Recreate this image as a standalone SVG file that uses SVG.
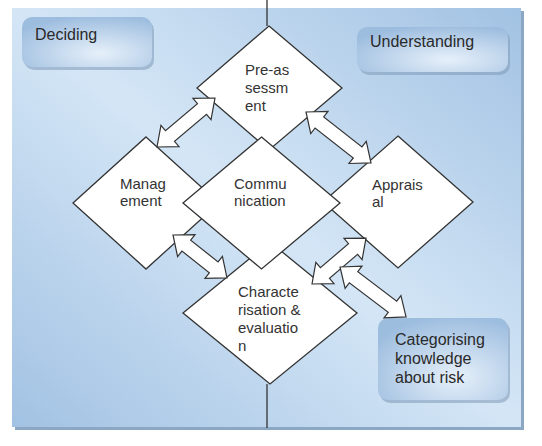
<svg xmlns="http://www.w3.org/2000/svg" width="542" height="446" viewBox="0 0 542 446">
<defs>
<linearGradient id="bg" x1="0" y1="1" x2="1" y2="0">
<stop offset="0" stop-color="#a2c2e3"/>
<stop offset="0.5" stop-color="#d4e6f6"/>
<stop offset="1" stop-color="#a2c2e3"/>
</linearGradient>
<radialGradient id="box" cx="0.6" cy="0.72" r="0.75">
<stop offset="0" stop-color="#e6f0fa"/>
<stop offset="1" stop-color="#9dbddf"/>
</radialGradient>
<style>
.dia{fill:#ffffff;stroke:#333333;stroke-width:1.3;stroke-linejoin:miter}
.arr{fill:#ffffff;stroke:#333333;stroke-width:1.2;stroke-linejoin:miter}
.t{font-family:"Liberation Sans",Arial,sans-serif;font-size:15px;fill:#333333}
.bt{font-family:"Liberation Sans",Arial,sans-serif;font-size:16px;fill:#2a2a2a}
.boxr{fill:url(#box)}
.sh{fill:#7d99b6;opacity:0.55}
.ln{stroke:#333333;stroke-width:1.3}
</style>
</defs>
<g id="panel">
<rect x="15" y="11" width="509" height="419" fill="#8ba7c3"/>
<rect x="12" y="8" width="509" height="419" fill="url(#bg)"/>
</g>
<g id="axis">
<line class="ln" x1="267" y1="0" x2="267" y2="26"/>
<line class="ln" x1="267" y1="384" x2="267" y2="428"/>
</g>
<g id="deciding">
<rect class="sh" x="24" y="20" width="130" height="50" rx="10"/>
<rect class="boxr" x="22" y="17" width="130" height="50" rx="10"/>
<text class="bt" x="35" y="40">Deciding</text>
</g>
<g id="understanding">
<rect class="sh" x="359" y="30" width="151" height="45" rx="10"/>
<rect class="boxr" x="357" y="27" width="151" height="45" rx="10"/>
<text class="bt" x="370" y="47">Understanding</text>
</g>
<g id="categorising">
<rect class="sh" x="380" y="321" width="130" height="82" rx="10"/>
<rect class="boxr" x="378" y="318" width="130" height="82" rx="10"/>
<text class="bt" x="395" y="345">Categorising</text>
<text class="bt" x="395" y="364">knowledge</text>
<text class="bt" x="395" y="383">about risk</text>
</g>
<g id="preassessment">
<polygon class="dia" points="269,26 342,88 269,150 197,88"/>
<text class="t" x="245" y="75">Pre-as</text>
<text class="t" x="245" y="93">sessm</text>
<text class="t" x="245" y="111">ent</text>
</g>
<g id="management">
<polygon class="dia" points="146,137 219,203 146,269 73,203"/>
<text class="t" x="120" y="189">Manag</text>
<text class="t" x="120" y="206">ement</text>
</g>
<g id="appraisal">
<polygon class="dia" points="398,136 473,202 398,268 323,202"/>
<text class="t" x="372" y="190">Apprais</text>
<text class="t" x="372" y="207">al</text>
</g>
<g id="characterisation">
<polygon class="dia" points="270,242 357,313 270,384 183,313"/>
<text class="t" x="238" y="297">Characte</text>
<text class="t" x="238" y="315">risation &amp;</text>
<text class="t" x="238" y="333">evaluatio</text>
<text class="t" x="238" y="351">n</text>
</g>
<g id="communication">
<polygon class="dia" points="261.5,137 340,203 261.5,269 183,203"/>
<text class="t" x="234" y="189">Commu</text>
<text class="t" x="234" y="206">nication</text>
</g>
<g id="connectors">
<path class="arr" transform="translate(157,147) rotate(-40.2)" d="M0,0 L17,-14 L17,-7 L58.9,-7 L58.9,-14 L75.9,0 L58.9,14 L58.9,7 L17,7 L17,14 Z"/>
<path class="arr" transform="translate(306,112) rotate(38.1)" d="M0,0 L17,-14 L17,-7 L65.6,-7 L65.6,-14 L82.6,0 L65.6,14 L65.6,7 L17,7 L17,14 Z"/>
<path class="arr" transform="translate(173,235) rotate(38.5)" d="M0,0 L17,-14 L17,-7 L52,-7 L52,-14 L69,0 L52,14 L52,7 L17,7 L17,14 Z"/>
<path class="arr" transform="translate(312,284) rotate(-40.4)" d="M0,0 L17,-14 L17,-7 L53.9,-7 L53.9,-14 L70.9,0 L53.9,14 L53.9,7 L17,7 L17,14 Z"/>
<path class="arr" transform="translate(340,267) rotate(37.1)" d="M0,0 L17,-14 L17,-7 L65.8,-7 L65.8,-14 L82.8,0 L65.8,14 L65.8,7 L17,7 L17,14 Z"/>
</g>
</svg>
